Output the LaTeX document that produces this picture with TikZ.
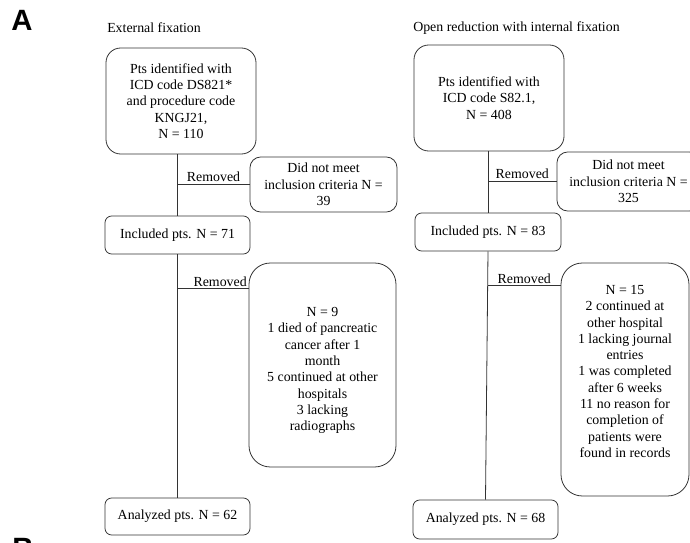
\documentclass[tikz,border=0pt]{standalone}
\usepackage{fontspec}
\setmainfont{Liberation Serif}
\newfontfamily\panelfont{Liberation Sans}
\begin{document}
\begin{tikzpicture}[x=0.75pt, y=-0.75pt,
        every node/.style={font=\fontsize{10.4}{12.2}\selectfont},
        box/.style={draw=black!80, line width=0.6pt, align=center, inner sep=1pt},
        trunk/.style={draw=black!80, line width=0.6pt},
        lbl/.style={above, inner sep=1.5pt},
        panel/.style={anchor=north west, inner sep=0pt, font=\panelfont\bfseries\fontsize{22}{24}\selectfont}]
            \clip (0,0) rectangle (690,543);

            \node[panel] (pA) at (11,10) {A};
            \node[panel] (pB) at (12,538) {B};

            % external fixation
            \node[anchor=west, inner sep=0pt] (ltitle) at (107,28) {External fixation};
            \node[box, rounded corners=11pt, minimum width=112.5pt, minimum height=79.5pt] (lid) at (181,101) {Pts identified with\\ICD code DS821*\\and procedure code\\KNGJ21,\\N = 110};
            \node[box, rounded corners=8pt, minimum width=110.25pt, minimum height=41.25pt] (lexc) at (323.5,184.5) {Did not meet\\inclusion criteria N =\\39};
            \node[box, rounded corners=5pt, minimum width=108.75pt, minimum height=28.5pt] (linc) at (177.5,235) {Included pts. N = 71};
            \node[box, rounded corners=16pt, minimum width=110.25pt, minimum height=153pt] (lrem) at (322.5,365) {\mbox{}\\[3pt]N = 9\\1 died of pancreatic\\cancer after 1\\month\\5 continued at other\\hospitals\\3 lacking\\radiographs};
            \node[box, rounded corners=5pt, minimum width=108.75pt, minimum height=27.75pt] (lana) at (177.5,516.5) {Analyzed pts. N = 62};

            \draw[trunk] (lid.south -| linc) -- (linc.north);
            \draw[trunk] (linc.south) -- (lana.north);
            \draw[trunk] (lexc.west -| linc) -- node[lbl] {Removed} (lexc.west);
            \draw[trunk] ([yshift=-19.5pt]lrem.north west -| linc) -- node[lbl, pos=0.6] {Removed} ([yshift=-19.5pt]lrem.north west);

            % open reduction with internal fixation
            \node[anchor=west, inner sep=0pt] (rtitle) at (413,28) {Open reduction with internal fixation};
            \node[box, rounded corners=11pt, minimum width=112.5pt, minimum height=79.5pt] (rid) at (489,98) {Pts identified with\\ICD code S82.1,\\N = 408};
            \node[box, rounded corners=8pt, minimum width=107.25pt, minimum height=44.25pt] (rexc) at (628.5,181.5) {Did not meet\\inclusion criteria N =\\325};
            \node[box, rounded corners=5pt, minimum width=109.5pt, minimum height=28.5pt] (rinc) at (488,232) {Included pts. N = 83};
            \node[box, rounded corners=16pt, minimum width=96pt, minimum height=174.75pt] (rrem) at (625,379.5) {N = 15\\2 continued at\\other hospital\\1 lacking journal\\entries\\1 was completed\\after 6 weeks\\11 no reason for\\completion of\\patients were\\found in records\\\mbox{}};
            \node[box, rounded corners=5pt, minimum width=108.75pt, minimum height=29.25pt] (rana) at (485.5,519.5) {Analyzed pts. N = 68};

            \draw[trunk] (rid.south -| rinc) -- (rinc.north);
            \draw[trunk] (rinc.south) -- (rana.north);
            \draw[trunk] (rexc.west -| rinc) -- node[lbl] {Removed} (rexc.west);
            \draw[trunk] ([yshift=-17.25pt]rrem.north west -| rinc) -- node[lbl] {Removed} ([yshift=-17.25pt]rrem.north west);
        \end{tikzpicture}
\end{document}
